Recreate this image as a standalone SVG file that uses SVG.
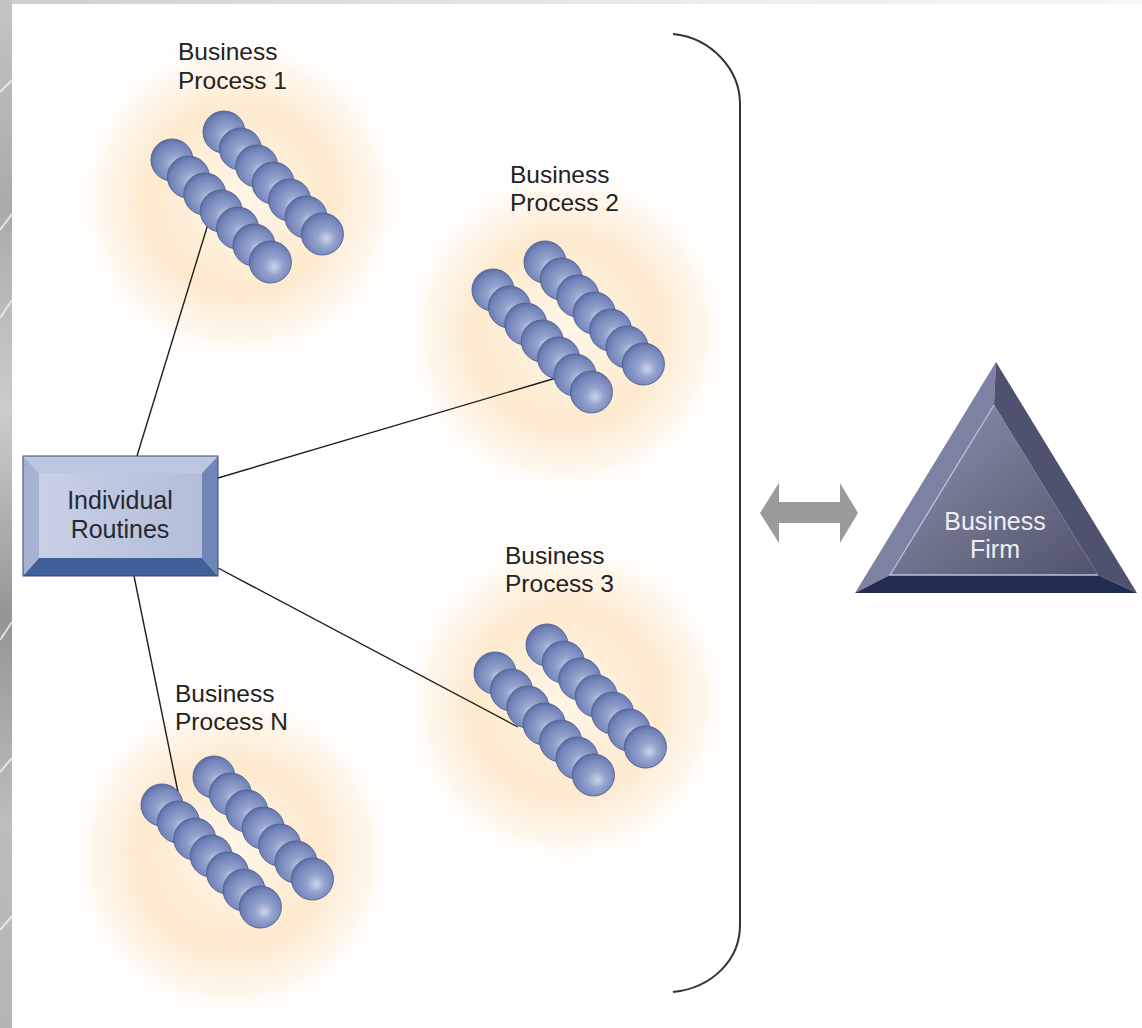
<svg xmlns="http://www.w3.org/2000/svg" xmlns:xlink="http://www.w3.org/1999/xlink" width="1142" height="1028" viewBox="0 0 1142 1028">
  <defs>
    <style>
      .label { font-family: "Liberation Sans", Arial, sans-serif; font-size: 24.5px; fill: #222222; }
      .firm { font-family: "Liberation Sans", Arial, sans-serif; font-size: 25px; fill: #eeeef6; text-anchor: middle; }
      .routine { font-family: "Liberation Sans", Arial, sans-serif; font-size: 25px; fill: #262833; text-anchor: middle; }
      .link { stroke: #1e1e1e; stroke-width: 1.4; fill: none; }
      .bead { fill: url(#beadFill); stroke: #4e5f93; stroke-width: 0.9; }
    </style>
    <!-- soft peach halo behind each process -->
    <radialGradient id="halo" cx="0.5" cy="0.5" r="0.5">
      <stop offset="0" stop-color="#fff4e4" stop-opacity="0.85"/>
      <stop offset="0.55" stop-color="#fde7c8" stop-opacity="0.9"/>
      <stop offset="0.82" stop-color="#fef1df" stop-opacity="0.55"/>
      <stop offset="1" stop-color="#ffffff" stop-opacity="0"/>
    </radialGradient>
    <!-- shaded sphere -->
    <radialGradient id="beadFill" cx="0.55" cy="0.58" r="0.6" fx="0.6" fy="0.62">
      <stop offset="0" stop-color="#cdd5ec"/>
      <stop offset="0.35" stop-color="#95a3cd"/>
      <stop offset="0.8" stop-color="#7284b9"/>
      <stop offset="1" stop-color="#5a6ba1"/>
    </radialGradient>
    <linearGradient id="boxFace" x1="0" y1="0" x2="1" y2="0">
      <stop offset="0" stop-color="#c9d0e6"/>
      <stop offset="1" stop-color="#b3bdd9"/>
    </linearGradient>
    <linearGradient id="firmFace" x1="0" y1="0" x2="1" y2="1">
      <stop offset="0" stop-color="#8f93ae"/>
      <stop offset="1" stop-color="#50536b"/>
    </linearGradient>
    <linearGradient id="edgeStrip" x1="0" y1="0" x2="0" y2="1">
      <stop offset="0" stop-color="#c4c4c4"/>
      <stop offset="0.2" stop-color="#aaaaaa"/>
      <stop offset="0.4" stop-color="#cccccc"/>
      <stop offset="0.6" stop-color="#959595"/>
      <stop offset="0.8" stop-color="#bdbdbd"/>
      <stop offset="1" stop-color="#b5b5b5"/>
    </linearGradient>
    <linearGradient id="topStrip" x1="0" y1="0" x2="1" y2="0">
      <stop offset="0" stop-color="#cfcfcf"/>
      <stop offset="0.6" stop-color="#ececec"/>
      <stop offset="1" stop-color="#f6f6f6"/>
    </linearGradient>
    <!-- one diagonal chain of seven beads -->
    <g id="chain">
      <circle class="bead" cx="0" cy="0" r="21"/>
      <circle class="bead" cx="16.4" cy="17" r="21"/>
      <circle class="bead" cx="32.8" cy="34" r="21"/>
      <circle class="bead" cx="49.2" cy="51" r="21"/>
      <circle class="bead" cx="65.6" cy="68" r="21"/>
      <circle class="bead" cx="82" cy="85" r="21"/>
      <circle class="bead" cx="98.4" cy="102" r="21"/>
    </g>
    <!-- two parallel chains -->
    <g id="cluster">
      <use xlink:href="#chain" href="#chain" x="52" y="-28"/>
      <use xlink:href="#chain" href="#chain" x="0" y="0"/>
    </g>
  </defs>

  <!-- page -->
  <rect x="0" y="0" width="1142" height="1028" fill="#ffffff"/>
  <rect x="0" y="0" width="1142" height="4" fill="url(#topStrip)"/>
  <rect x="0" y="0" width="12" height="1028" fill="url(#edgeStrip)"/>
  <g stroke="#f4f4f4" stroke-width="2" opacity="0.8">
    <line x1="0" y1="92" x2="12" y2="80"/>
    <line x1="0" y1="230" x2="12" y2="214"/>
    <line x1="0" y1="318" x2="12" y2="300"/>
    <line x1="0" y1="640" x2="12" y2="622"/>
    <line x1="0" y1="772" x2="12" y2="758"/>
    <line x1="0" y1="930" x2="12" y2="916"/>
  </g>

  <!-- halos -->
  <g id="halos">
    <circle cx="240" cy="200" r="170" fill="url(#halo)"/>
    <circle cx="566" cy="332" r="170" fill="url(#halo)"/>
    <circle cx="566" cy="702" r="170" fill="url(#halo)"/>
    <circle cx="232" cy="855" r="170" fill="url(#halo)"/>
  </g>

  <!-- connectors -->
  <g id="connectors">
    <line class="link" x1="137" y1="456" x2="208" y2="224"/>
    <line class="link" x1="218" y1="478" x2="556" y2="378"/>
    <line class="link" x1="218" y1="568" x2="518" y2="727"/>
    <line class="link" x1="134" y1="576" x2="179" y2="797"/>
    <!-- bracket grouping the processes -->
    <path d="M673,34 C712,38 740,70 740,104 L740,925 C740,960 712,988 673,992" stroke="#333333" stroke-width="2" fill="none"/>
    <!-- two-way arrow -->
    <polygon points="760,513 779,483 779,502 840,502 840,483 858,513 840,543 840,523 779,523 779,543" fill="#9a9a9a"/>
  </g>

  <g id="process-1">
    <use xlink:href="#cluster" href="#cluster" x="172" y="160"/>
    <text class="label" x="178" y="60">Business</text>
    <text class="label" x="178" y="89">Process 1</text>
  </g>

  <g id="process-2">
    <use xlink:href="#cluster" href="#cluster" x="493" y="290"/>
    <text class="label" x="510" y="183">Business</text>
    <text class="label" x="510" y="211">Process 2</text>
  </g>

  <g id="process-3">
    <use xlink:href="#cluster" href="#cluster" x="495" y="673"/>
    <text class="label" x="505" y="564">Business</text>
    <text class="label" x="505" y="592">Process 3</text>
  </g>

  <g id="process-n">
    <use xlink:href="#cluster" href="#cluster" x="162" y="805"/>
    <text class="label" x="175" y="702">Business</text>
    <text class="label" x="175" y="730">Process N</text>
  </g>

  <g id="individual-routines">
    <polygon points="23,456 218,456 202,473 39,473" fill="#bcc6df"/>
    <polygon points="23,456 39,473 39,558 23,576" fill="#a6b2d2"/>
    <polygon points="218,456 218,576 202,558 202,473" fill="#6f86b6"/>
    <polygon points="23,576 39,558 202,558 218,576" fill="#40609a"/>
    <rect x="39" y="473" width="163" height="85" fill="url(#boxFace)"/>
    <rect x="23" y="456" width="195" height="120" fill="none" stroke="#34497c" stroke-width="1"/>
    <text class="routine" x="120" y="509">Individual</text>
    <text class="routine" x="120" y="538">Routines</text>
  </g>

  <g id="business-firm">
    <polygon points="996,362 855,593 890,575 994,405" fill="#7d82a3"/>
    <polygon points="996,362 1137,593 1098,575 994,405" fill="#4f526e"/>
    <polygon points="994,405 890,575 1098,575" fill="url(#firmFace)"/>
    <polygon points="855,593 890,575 1098,575 1137,593" fill="#222c52"/>
    <polyline points="994,405 890,575 1098,575" fill="none" stroke="#b7c1e2" stroke-width="1.3"/>
    <text class="firm" x="995" y="530">Business</text>
    <text class="firm" x="995" y="558">Firm</text>
  </g>
</svg>
